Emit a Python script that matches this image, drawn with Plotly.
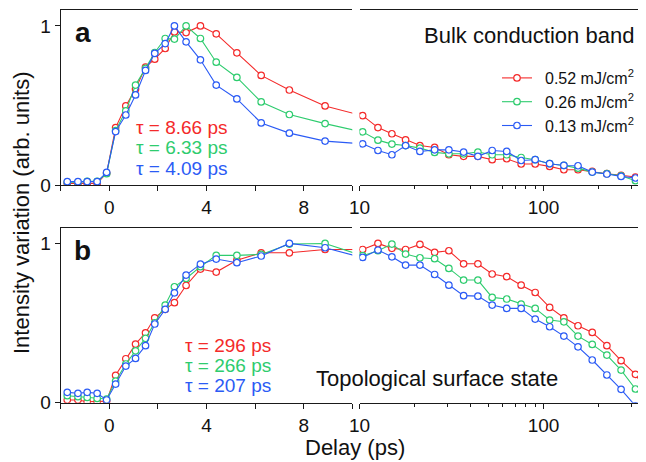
import plotly.graph_objects as go

# ---------------- data ----------------
left_x = [-1.73, -1.29, -0.91, -0.50, -0.11, 0.26, 0.68, 1.08, 1.49, 1.87,
          2.30, 2.68, 3.16, 3.75, 4.40, 5.25, 6.25, 7.41, 8.88]
right_x = [10.4, 12.6, 15.0, 17.8, 21.3, 25.6, 30.6, 36.8, 44.0, 52.6,
           63.1, 75.6, 90.1, 108, 129, 154, 184, 221, 264, 316, 379]

series_names = ["0.52 mJ/cm<sup>2</sup>", "0.26 mJ/cm<sup>2</sup>", "0.13 mJ/cm<sup>2</sup>"]
series_colors = ["#F42A2A", "#2ECC6E", "#2B5BF5"]

# panel a: bulk conduction band
a_red = [0.01, 0.01, 0.01, 0.01, 0.075, 0.361, 0.497, 0.603, 0.741, 0.791,
         0.858, 0.962, 0.958, 1.0, 0.950, 0.831, 0.689, 0.597, 0.497,
         0.436, 0.361, 0.322, 0.284, 0.248, 0.236, 0.190, 0.180, 0.180, 0.159,
         0.165, 0.132, 0.132, 0.117, 0.096, 0.096, 0.086, 0.071, 0.061, 0.050, 0.03]
a_green = [0.017, 0.017, 0.023, 0.023, 0.071, 0.342, 0.466, 0.628, 0.733, 0.833,
           0.921, 0.917, 1.0, 0.921, 0.772, 0.676, 0.522, 0.443, 0.386,
           0.334, 0.282, 0.257, 0.248, 0.232, 0.205, 0.196, 0.196, 0.207, 0.190,
           0.190, 0.173, 0.159, 0.134, 0.123, 0.106, 0.081, 0.071, 0.058, 0.027, 0.02]
a_blue = [0.021, 0.021, 0.021, 0.021, 0.079, 0.336, 0.44, 0.566, 0.72, 0.827,
          0.889, 1.0, 0.90, 0.787, 0.628, 0.541, 0.39, 0.326, 0.276,
          0.259, 0.217, 0.190, 0.248, 0.211, 0.221, 0.221, 0.207, 0.180, 0.217,
          0.211, 0.154, 0.159, 0.134, 0.123, 0.121, 0.081, 0.069, 0.054, 0.044, 0.025]

# panel b: topological surface state
b_red = [0.017, 0.017, 0.006, 0.006, 0.010, 0.172, 0.276, 0.368, 0.439, 0.533,
         0.586, 0.628, 0.736, 0.839, 0.820, 0.895, 0.941, 0.941, 0.962,
         0.962, 1.0, 0.969, 0.962, 0.994, 0.944, 0.954, 0.872, 0.872, 0.808,
         0.791, 0.738, 0.692, 0.598, 0.533, 0.483, 0.441, 0.358, 0.264, 0.178, 0.035]
b_green = [0.044, 0.038, 0.033, 0.027, 0.023, 0.136, 0.243, 0.326, 0.404, 0.502,
           0.613, 0.728, 0.780, 0.854, 0.925, 0.925, 0.931, 0.996, 1.0,
           0.923, 0.954, 0.996, 0.933, 0.910, 0.904, 0.843, 0.770, 0.770, 0.661,
           0.651, 0.619, 0.592, 0.519, 0.508, 0.418, 0.366, 0.299, 0.205, 0.086, -0.015]
b_blue = [0.065, 0.059, 0.065, 0.059, 0.017, 0.117, 0.230, 0.278, 0.358, 0.494,
          0.586, 0.690, 0.801, 0.870, 0.902, 0.879, 0.921, 1.0, 0.973,
          0.912, 0.958, 0.916, 0.864, 0.864, 0.805, 0.738, 0.672, 0.669, 0.613,
          0.592, 0.592, 0.525, 0.477, 0.418, 0.351, 0.268, 0.174, 0.084, -0.02, -0.12]

tau_a = ["τ = 8.66 ps", "τ = 6.33 ps", "τ = 4.09 ps"]
tau_b = ["τ = 296 ps", "τ = 266 ps", "τ = 207 ps"]

lin_tickvals = [-2, 0, 2, 4, 6, 8, 10]
lin_ticktext = ["", "0", "", "4", "", "8", ""]
log_tickvals = [10, 100]
log_ticktext = ["10", "100"]
log_minor = [20, 30, 40, 50, 60, 70, 80, 90, 200, 300]
y_tickvals = [0, 1]
y_ticktext = ["0", "1"]

# ---------------- figure ----------------
# the page body has an 8px margin: build the figure so that it fills the window
OFF = 8
SW, SH = 646, 462
W, H = SW - OFF, SH - OFF
FONT = "Liberation Sans, Arial, Helvetica, sans-serif"


def px(x):  # screen pixel -> paper fraction
    return (x - OFF) / W


def py(y):
    return 1 - (y - OFF) / H


full_x = left_x + right_x
fig = go.Figure()

panels = [("a", [a_red, a_green, a_blue]), ("b", [b_red, b_green, b_blue])]
for pi, (lab, ys) in enumerate(panels):
    xl = "x" if pi == 0 else "x3"
    yl = "y" if pi == 0 else "y3"
    xr = "x2" if pi == 0 else "x4"
    yr = "y2" if pi == 0 else "y4"
    for si, yv in enumerate(ys):
        style = dict(mode="lines+markers",
                     line=dict(color=series_colors[si], width=1.1),
                     marker=dict(symbol="circle", size=6.5, color="white",
                                 line=dict(color=series_colors[si], width=1.2)))
        fig.add_trace(go.Scatter(x=full_x, y=yv, xaxis=xl, yaxis=yl,
                                 showlegend=False, name=series_names[si], **style))
        fig.add_trace(go.Scatter(x=full_x, y=yv, xaxis=xr, yaxis=yr,
                                 showlegend=(pi == 0), name="\u2002" + series_names[si], **style))

axis_common = dict(showline=True, linecolor="#1a1a1a", linewidth=1,
                   ticks="outside", ticklen=5, tickwidth=1, tickcolor="#1a1a1a",
                   showgrid=False, zeroline=False, automargin=False,
                   tickfont=dict(family=FONT, size=19, color="#111"))

dom_a = [py(185), py(10)]
dom_b = [py(402.7), py(227.5)]
dom_l = [px(60.7), px(352.3)]
dom_r = [px(359.5), 1.0]

for name, anchor in [("xaxis", "y"), ("xaxis3", "y3")]:
    fig.layout[name] = dict(domain=dom_l, range=[-2, 10], anchor=anchor,
                            tickmode="array", tickvals=lin_tickvals, ticktext=lin_ticktext,
                            mirror=True, **axis_common)
for name, anchor in [("xaxis2", "y2"), ("xaxis4", "y4")]:
    fig.layout[name] = dict(domain=dom_r, type="log", range=[1, 2.557], anchor=anchor,
                            tickmode="array", tickvals=log_tickvals, ticktext=log_ticktext,
                            minor=dict(tickmode="array", tickvals=log_minor, ticks="outside",
                                       ticklen=3, tickcolor="#1a1a1a", showgrid=False),
                            mirror=True, **axis_common)
fig.layout["yaxis"] = dict(domain=dom_a, range=[0, 1.1], anchor="x",
                           tickmode="array", tickvals=y_tickvals, ticktext=y_ticktext,
                           **axis_common)
fig.layout["yaxis3"] = dict(domain=dom_b, range=[0, 1.1], anchor="x3",
                            tickmode="array", tickvals=y_tickvals, ticktext=y_ticktext,
                            **axis_common)
fig.layout["yaxis2"] = dict(domain=dom_a, range=[0, 1.1], anchor="x2", visible=False, automargin=False)
fig.layout["yaxis4"] = dict(domain=dom_b, range=[0, 1.1], anchor="x4", visible=False, automargin=False)

ann = []


def text(x, y, s, size, color="#111", xanchor="left", bold=False, angle=0):
    ann.append(dict(x=px(x), y=py(y), xref="paper", yref="paper", text=("<b>%s</b>" % s) if bold else s,
                    showarrow=False, xanchor=xanchor, yanchor="middle", textangle=angle,
                    font=dict(family=FONT, size=size, color=color)))


text(83, 33, "a", 28, xanchor="center", bold=True)
text(82, 250, "b", 28, xanchor="center", bold=True)
text(636, 35, "Bulk conduction band", 22, xanchor="right")
text(314, 378, "Topological surface state", 22)
for i, s in enumerate(tau_a):
    text(134, 127.5 + 20.5 * i, s, 19, color=series_colors[i])
for i, s in enumerate(tau_b):
    text(183, 345.5 + 20 * i, s, 19, color=series_colors[i])
text(355, 447, "Delay (ps)", 22, xanchor="center")
text(21, 213, "Intensity variation (arb. units)", 22, xanchor="center", angle=-90)

fig.update_layout(
    width=W, height=H, margin=dict(l=0, r=0, t=0, b=0, autoexpand=False),
    paper_bgcolor="white", plot_bgcolor="white",
    annotations=ann,
    showlegend=True,
    legend=dict(x=px(497), y=py(61), xanchor="left", yanchor="top",
                font=dict(family=FONT, size=16, color="#111"),
                bgcolor="rgba(0,0,0,0)", borderwidth=0, itemwidth=30,
                tracegroupgap=0),
)

fig.write_html("out.html")
